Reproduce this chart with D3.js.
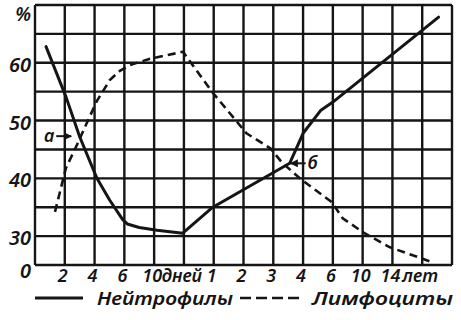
<!DOCTYPE html>
<html><head><meta charset="utf-8">
<script src="https://cdn.jsdelivr.net/npm/d3@7"></script>
<style>
html,body{margin:0;padding:0;background:#fff;}
svg{display:block;}
text{font-family:"Noto Sans","Open Sans","DejaVu Sans",sans-serif;font-style:italic;font-weight:600;fill:#151515;}
</style></head><body>
<svg id="chart" width="461" height="320"></svg>
<script>
// ---- data ----
// grid columns: index positions 0..14 with their labels
const xTickLabels = ["", "2", "4", "6", "10", "дней", "1", "2", "3", "4", "6", "10", "14", "лет", ""];
// y axis (broken: bottom line is labelled 0)
const yTickValues = [25, 30, 40, 50, 60];
const yTickLabels = ["0", "30", "40", "50", "60"];
const yUnit = "%";
const yGridValues = [25, 30, 35, 40, 45, 50, 55, 60, 65, 70];

// Нейтрофилы (solid): position on the column index scale, value %
const neutroPos = [0.37, 1.04, 1.5, 2.08, 2.51, 2.95, 3.1, 3.5, 4.1, 4.96, 5.97, 8.55, 9.0, 9.6, 10.0, 13.55];
const neutroVal = [62.8, 54.1, 47.2, 40.0, 36.2, 32.8, 32.1, 31.5, 31.0, 30.5, 35.0, 42.6, 47.8, 51.8, 53.2, 67.9];

// Лимфоциты (dashed)
const lymphoPos = [0.67, 1.04, 1.41, 1.75, 2.08, 2.51, 2.85, 3.19, 3.86, 4.97, 5.97, 7.1, 7.9, 8.3, 8.89, 9.96, 10.33, 11.0, 11.9, 13.33];
const lymphoVal = [34.2, 41.8, 45.8, 49.7, 53.4, 57.0, 58.6, 59.6, 60.7, 61.9, 54.8, 47.8, 45.2, 42.7, 40.0, 35.9, 33.1, 30.7, 28.1, 25.5];

const seriesNames = ["Нейтрофилы", "Лимфоциты"];

// crossing-point annotations (position index, value)
const annLabels = ["а", "б"];
const annPos = [1.25, 8.55];
const annVal = [47.3, 42.6];
const annSide = ["left", "right"];

// ---- drawing ----
const svg = d3.select("#chart");
const L = 35, R = 452, T = 5, B = 265;
const x = d3.scaleLinear().domain([0, xTickLabels.length - 1]).range([L, R]);
const y = d3.scaleLinear().domain([25, 70]).range([B, T]);
const ink = "#151515";

// grid
const g = svg.append("g");
g.selectAll("line.v").data(d3.range(xTickLabels.length)).join("line")
  .attr("x1", d => x(d)).attr("x2", d => x(d)).attr("y1", T).attr("y2", B)
  .attr("stroke", ink).attr("stroke-width", 2.4);
g.selectAll("line.h").data(yGridValues).join("line")
  .attr("x1", L).attr("x2", R).attr("y1", d => y(d)).attr("y2", d => y(d))
  .attr("stroke", ink).attr("stroke-width", 2.4);

// y labels
svg.append("g").selectAll("text").data(yTickValues).join("text")
  .attr("x", 31).attr("y", (d) => y(d) + (d === 25 ? 13 : 9))
  .attr("text-anchor", "end").attr("font-size", 20)
  .text((d, i) => yTickLabels[i]);
svg.append("text").attr("x", 31).attr("y", y(70) + 16)
  .attr("text-anchor", "end").attr("font-size", 19).text(yUnit);

// x labels
svg.append("g").selectAll("text").data(xTickLabels.map((t, i) => ({t, i})).filter(d => d.t))
  .join("text")
  .attr("x", d => x(d.i) - 2).attr("y", B + 17)
  .attr("text-anchor", "middle").attr("font-size", 18)
  .text(d => d.t);

// lines
const line = d3.line().x(d => x(d[0])).y(d => y(d[1])).curve(d3.curveLinear);
const nData = neutroPos.map((p, i) => [p, neutroVal[i]]);
const lData = lymphoPos.map((p, i) => [p, lymphoVal[i]]);
svg.append("path").datum(lData).attr("d", line)
  .attr("fill", "none").attr("stroke", ink).attr("stroke-width", 2.6)
  .attr("stroke-dasharray", "8,5");
svg.append("path").datum(nData).attr("d", line)
  .attr("fill", "none").attr("stroke", ink).attr("stroke-width", 3)
  .attr("stroke-linejoin", "round").attr("stroke-linecap", "round");

// arrow marker
svg.append("defs").append("marker").attr("id", "ah")
  .attr("viewBox", "0 0 10 10").attr("refX", 9).attr("refY", 5)
  .attr("markerWidth", 4).attr("markerHeight", 4).attr("orient", "auto")
  .append("path").attr("d", "M0,0L10,5L0,10z").attr("fill", ink);

annLabels.forEach((lab, i) => {
  const tx = x(annPos[i]), ty = y(annVal[i]);
  const s = annSide[i] === "left" ? -1 : 1;
  svg.append("line").attr("x1", tx + s * 16).attr("x2", tx + s * 1).attr("y1", ty).attr("y2", ty)
    .attr("stroke", ink).attr("stroke-width", 2).attr("marker-end", "url(#ah)");
  svg.append("text").attr("x", tx + s * 23).attr("y", ty + 6)
    .attr("text-anchor", "middle").attr("font-size", 18).text(lab);
});

// legend
const ly = 298;
const leg = svg.append("g");
leg.append("line").attr("x1", 35).attr("x2", 83).attr("y1", ly).attr("y2", ly)
  .attr("stroke", ink).attr("stroke-width", 3);
leg.append("text").attr("x", 97).attr("y", ly + 7).attr("font-size", 18)
  .attr("textLength", 136).attr("lengthAdjust", "spacingAndGlyphs").text(seriesNames[0]);
leg.append("line").attr("x1", 240).attr("x2", 303).attr("y1", ly).attr("y2", ly)
  .attr("stroke", ink).attr("stroke-width", 2.6).attr("stroke-dasharray", "11,5");
leg.append("text").attr("x", 312).attr("y", ly + 7).attr("font-size", 18)
  .attr("textLength", 141).attr("lengthAdjust", "spacingAndGlyphs").text(seriesNames[1]);
</script>
</body></html>
